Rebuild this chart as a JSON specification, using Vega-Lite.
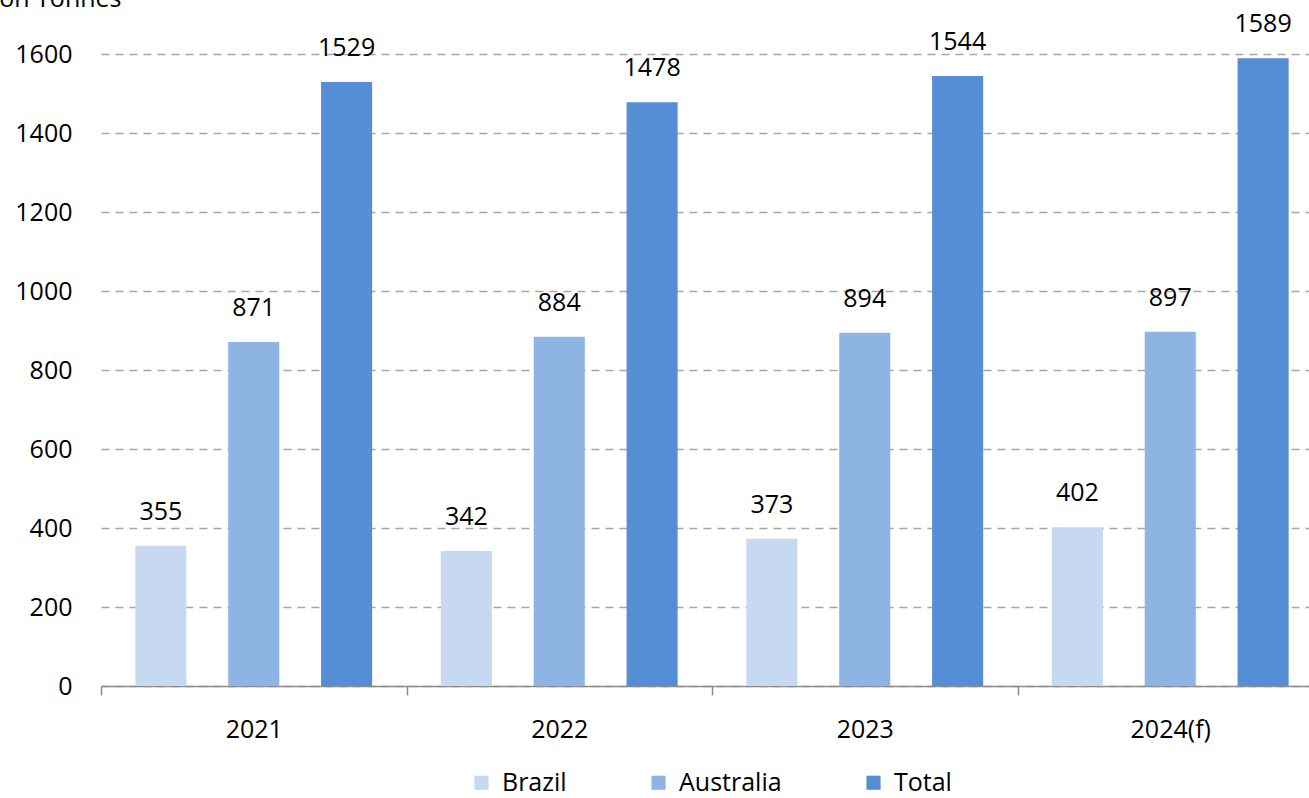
{
  "$schema": "https://vega.github.io/schema/vega-lite/v6.json",
  "autosize": {"type": "none"},
  "padding": {"left": 101, "top": 54, "right": 0, "bottom": 112},
  "width": 1222,
  "height": 632,
  "background": "white",
  "config": {
    "font": "Open Sans",
    "view": {"stroke": null}
  },
  "data": {
    "values": [
      {"year": "2021", "series": "Brazil", "value": 355},
      {"year": "2021", "series": "Australia", "value": 871},
      {"year": "2021", "series": "Total", "value": 1529},
      {"year": "2022", "series": "Brazil", "value": 342},
      {"year": "2022", "series": "Australia", "value": 884},
      {"year": "2022", "series": "Total", "value": 1478},
      {"year": "2023", "series": "Brazil", "value": 373},
      {"year": "2023", "series": "Australia", "value": 894},
      {"year": "2023", "series": "Total", "value": 1544},
      {"year": "2024(f)", "series": "Brazil", "value": 402},
      {"year": "2024(f)", "series": "Australia", "value": 897},
      {"year": "2024(f)", "series": "Total", "value": 1589}
    ]
  },
  "encoding": {
    "x": {
      "field": "year", "type": "nominal", "sort": null,
      "scale": {"paddingInner": 0, "paddingOuter": 0},
      "axis": {
        "title": null, "labelAngle": 0, "labelFontSize": 25, "labelColor": "#000000",
        "tickBand": "extent", "domainColor": "#8c8c8c", "domainWidth": 1.5,
        "tickColor": "#8c8c8c", "tickWidth": 1.5, "tickSize": 9, "labelPadding": 22, "grid": false
      }
    },
    "xOffset": {
      "field": "series", "type": "nominal", "sort": ["Brazil", "Australia", "Total"],
      "scale": {"paddingInner": 0.45, "paddingOuter": 0.37}
    },
    "y": {
      "field": "value", "type": "quantitative",
      "scale": {"domain": [0, 1600], "nice": false},
      "axis": {
        "title": "Million Tonnes", "titleAngle": 0, "titleAlign": "left", "titleBaseline": "alphabetic",
        "titleX": -150, "titleY": -48, "titleFontSize": 25, "titleFontWeight": "normal", "titleColor": "#000000",
        "values": [0, 200, 400, 600, 800, 1000, 1200, 1400, 1600], "format": "d",
        "labelFontSize": 25, "labelColor": "#000000", "labelPadding": 29,
        "domain": false, "ticks": false,
        "grid": true, "gridColor": "#a6a6a6", "gridDash": [8, 6], "gridWidth": 1.5
      }
    },
    "color": {
      "field": "series", "type": "nominal", "sort": ["Brazil", "Australia", "Total"],
      "scale": {"domain": ["Brazil", "Australia", "Total"], "range": ["#c6d9f0", "#8eb4e3", "#558ed5"]},
      "legend": {
        "title": null, "orient": "none", "legendX": 368, "legendY": 716, "direction": "horizontal",
        "labelFontSize": 25, "labelColor": "#000000", "symbolType": "square", "symbolSize": 200,
        "symbolStrokeWidth": 0, "columnPadding": 79, "labelOffset": 8
      }
    }
  },
  "layer": [
    {"mark": {"type": "bar"}},
    {
      "mark": {"type": "text", "baseline": "bottom", "dy": -21, "fontSize": 25, "color": "#000000"},
      "encoding": {"text": {"field": "value", "type": "quantitative"}, "color": {"value": "#000000"}}
    }
  ]
}
